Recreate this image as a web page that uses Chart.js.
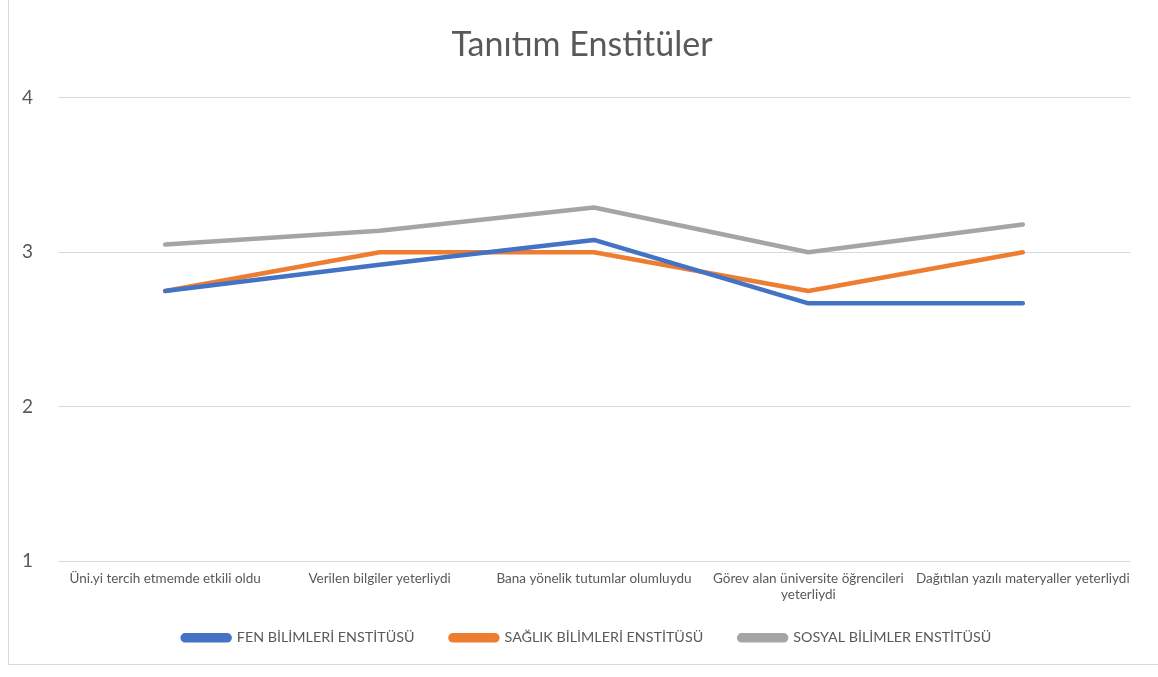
<!DOCTYPE html>
<html>
<head>
<meta charset="utf-8">
<script src="https://cdn.jsdelivr.net/npm/chart.js@4.4.0/dist/chart.umd.min.js"></script>
<style>
html,body{margin:0;padding:0;background:#fff;overflow:hidden;}
#frame{position:absolute;left:8px;top:-2px;width:1162px;height:667px;border:1px solid #d9d9d9;box-sizing:border-box;}
#wrap{position:absolute;left:0;top:0;width:1158px;height:677px;}
</style>
</head>
<body>
<div id="frame"></div>
<div id="wrap"><canvas id="c" width="1158" height="677"></canvas></div>
<script>
const categories = [
  "Üni.yi tercih etmemde etkili oldu",
  "Verilen bilgiler yeterliydi",
  "Bana yönelik tutumlar olumluydu",
  ["Görev alan üniversite öğrencileri", "yeterliydi"],
  "Dağıtılan yazılı materyaller yeterliydi"
];
const seriesNames = ["FEN BİLİMLERİ ENSTİTÜSÜ", "SAĞLIK BİLİMLERİ ENSTİTÜSÜ", "SOSYAL BİLİMLER ENSTİTÜSÜ"];
const fenValues = [2.75, 2.92, 3.08, 2.67, 2.67];
const saglikValues = [2.75, 3.0, 3.0, 2.75, 3.0];
const sosyalValues = [3.05, 3.14, 3.29, 3.0, 3.18];
const yTicks = [1, 2, 3, 4];
const colors = ["#4472C4", "#ED7D31", "#A5A5A5"];
const FONT = "Lato, 'Open Sans', sans-serif";

function ds(label, data, color) {
  return {
    label, data,
    borderColor: color, backgroundColor: color,
    borderWidth: 4.5, pointRadius: 0, pointHoverRadius: 0,
    tension: 0, borderCapStyle: 'round', borderJoinStyle: 'round', fill: false
  };
}

const boxShift = {
  id: 'boxShift',
  afterLayout(chart) {
    const lg = chart.legend;
    if (lg) {
      lg.left += 22; lg.right += 22;
      lg.top -= 17; lg.bottom -= 17;
    }
    const tb = chart.titleBlock;
    if (tb) { tb.left += 17; tb.right += 17; }
  }
};

new Chart(document.getElementById('c'), {
  type: 'line',
  data: {
    labels: categories,
    datasets: [
      ds(seriesNames[0], fenValues, colors[0]),
      ds(seriesNames[1], saglikValues, colors[1]),
      ds(seriesNames[2], sosyalValues, colors[2])
    ]
  },
  plugins: [boxShift],
  options: {
    responsive: false,
    animation: false,
    layout: { padding: { left: 0, right: 28, top: 0, bottom: 5 } },
    plugins: {
      title: {
        display: true, text: "Tanıtım Enstitüler", color: "#595959",
        font: { family: FONT, size: 34, weight: 'normal' },
        padding: { top: 25, bottom: 32 }
      },
      legend: {
        position: 'bottom',
        labels: {
          color: "#595959", font: { family: FONT, size: 14.3 },
          boxWidth: 47, boxHeight: 5, padding: 36,
          useBorderRadius: true, borderRadius: 2.5
        }
      },
      tooltip: { enabled: false }
    },
    scales: {
      x: {
        offset: true,
        grid: { display: false, drawTicks: false },
        border: { display: false },
        ticks: { color: "#595959", font: { family: FONT, size: 13.5 }, padding: 9, maxRotation: 0, autoSkip: false }
      },
      y: {
        min: 1, max: 4,
        afterFit: s => { s.width = 58; },
        afterBuildTicks: s => { s.ticks = yTicks.map(v => ({ value: v })); },
        grid: { color: "#d9d9d9", lineWidth: 1, drawTicks: false },
        border: { display: false },
        ticks: { color: "#595959", font: { family: FONT, size: 19 }, padding: 25, stepSize: 1 }
      }
    }
  }
});
</script>
</body>
</html>
